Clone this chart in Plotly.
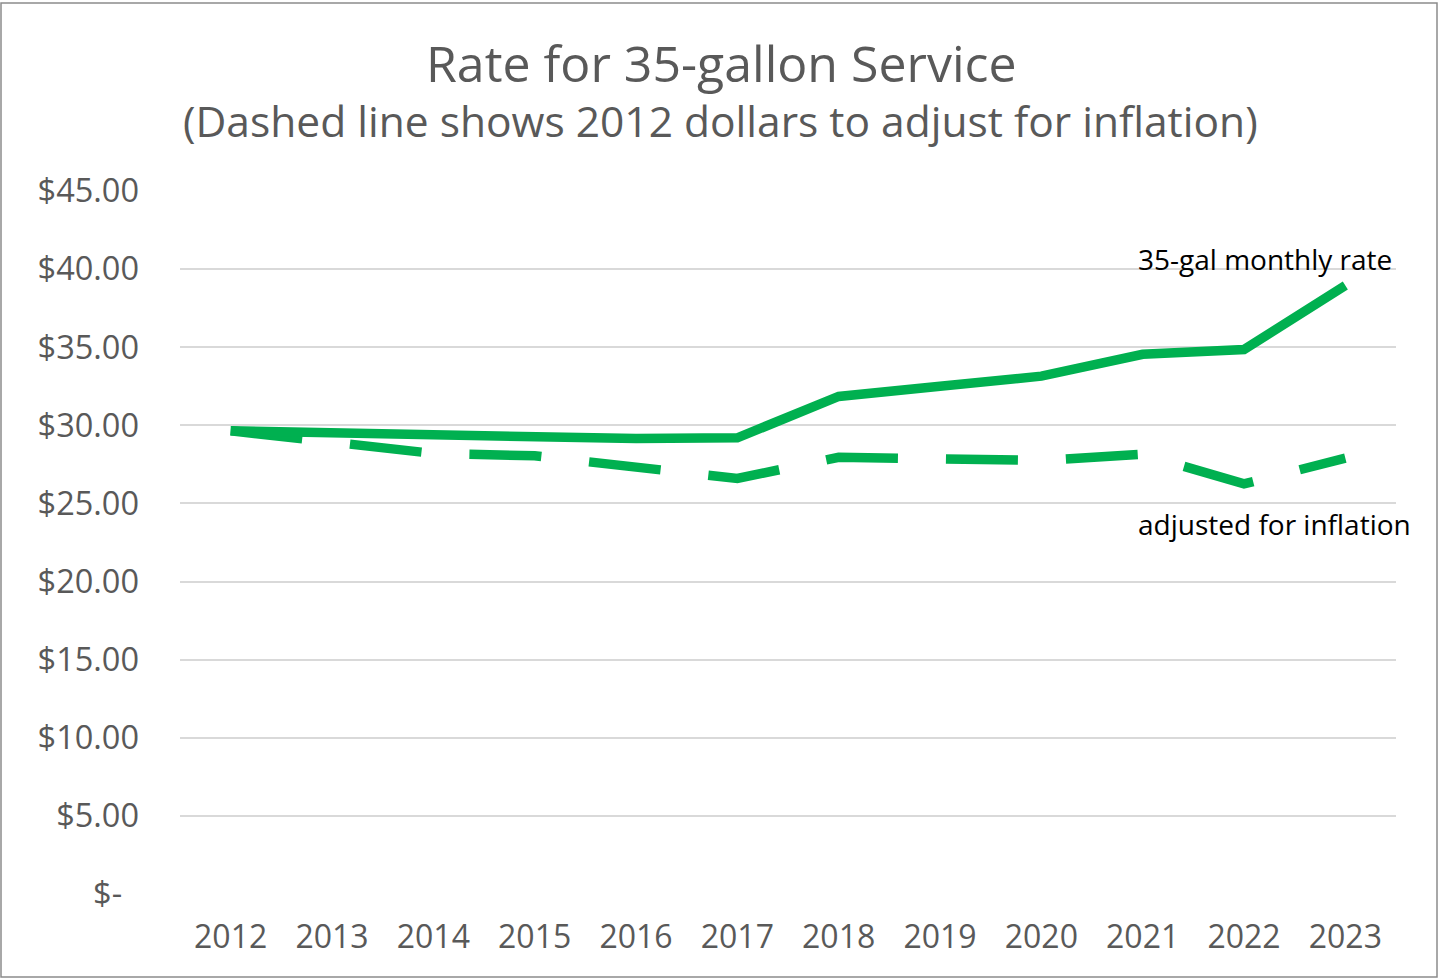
import plotly.graph_objects as go

years = ["2012", "2013", "2014", "2015", "2016", "2017", "2018", "2019", "2020", "2021", "2022", "2023"]
monthly_rate = [29.65, 29.5, 29.35, 29.35, 29.15, 29.2, 31.85, 32.5, 33.15, 34.55, 34.85, 38.95]
adjusted_rate = [29.65, 29.0, 28.2, 28.05, 27.3, 26.6, 27.95, 27.85, 27.75, 28.15, 26.25, 27.9]
y_tickvals = [0, 5, 10, 15, 20, 25, 30, 35, 40, 45]
y_ticktext = ["$-\u00a0\u00a0", "$5.00", "$10.00", "$15.00", "$20.00", "$25.00",
              "$30.00", "$35.00", "$40.00", "$45.00"]

W, H = 1439, 979
ML, MR, MT, MB = 180, 43, 191, 85
PW, PH = W - ML - MR, H - MT - MB

GREEN = "#00B050"
FONT = "Open Sans"

fig = go.Figure()
fig.add_trace(go.Scatter(x=years, y=adjusted_rate, mode="lines",
                         line=dict(color=GREEN, width=9.5, dash="72px,48px"),
                         name="adjusted for inflation", hoverinfo="skip"))
fig.add_trace(go.Scatter(x=years, y=monthly_rate, mode="lines",
                         line=dict(color=GREEN, width=9.5),
                         name="35-gal monthly rate", hoverinfo="skip"))

def px_x(p):
    return (p - ML) / PW

def px_y(p):
    return 1 - (p - MT) / PH

fig.add_shape(type="rect", xref="paper", yref="paper",
              x0=px_x(1), x1=px_x(W - 2), y0=px_y(H - 2), y1=px_y(3),
              line=dict(color="#8c8c8c", width=1.5), layer="below")

fig.add_annotation(text="Rate for 35-gallon Service", xref="paper", yref="paper",
                   x=px_x(721), y=px_y(63), showarrow=False,
                   font=dict(family=FONT, size=50, color="#595959"),
                   xanchor="center", yanchor="middle")
fig.add_annotation(text="(Dashed line shows 2012 dollars to adjust for inflation)", xref="paper", yref="paper",
                   x=px_x(720), y=px_y(121), showarrow=False,
                   font=dict(family=FONT, size=42.5, color="#595959"),
                   xanchor="center", yanchor="middle")
fig.add_annotation(text="35-gal monthly rate", xref="paper", yref="paper",
                   x=px_x(1136), y=px_y(259), showarrow=False,
                   font=dict(family=FONT, size=28, color="#000000"),
                   xanchor="left", yanchor="middle")
fig.add_annotation(text="adjusted for inflation", xref="paper", yref="paper",
                   x=px_x(1136), y=px_y(524), showarrow=False,
                   font=dict(family=FONT, size=28, color="#000000"),
                   xanchor="left", yanchor="middle")

fig.update_layout(
    width=W, height=H,
    margin=dict(l=ML, r=MR, t=MT, b=MB),
    paper_bgcolor="white", plot_bgcolor="white",
    showlegend=False,
    font=dict(family=FONT, color="#595959"),
    xaxis=dict(type="category", range=[-0.5, 11.5], showgrid=False, showline=False,
               ticks="", tickfont=dict(size=32, color="#595959"),
               ticklabelstandoff=21, zeroline=False),
    yaxis=dict(range=[0, 45], tickvals=y_tickvals, ticktext=y_ticktext,
               showgrid=True, gridcolor="#d9d9d9", gridwidth=2,
               zeroline=False, showline=False, ticks="",
               tickfont=dict(size=32.5, color="#595959"),
               ticklabelstandoff=40),
)

fig.write_html("out.html", config={"displayModeBar": False},
               post_script="document.body.style.margin='0';document.body.style.overflow='hidden';")
